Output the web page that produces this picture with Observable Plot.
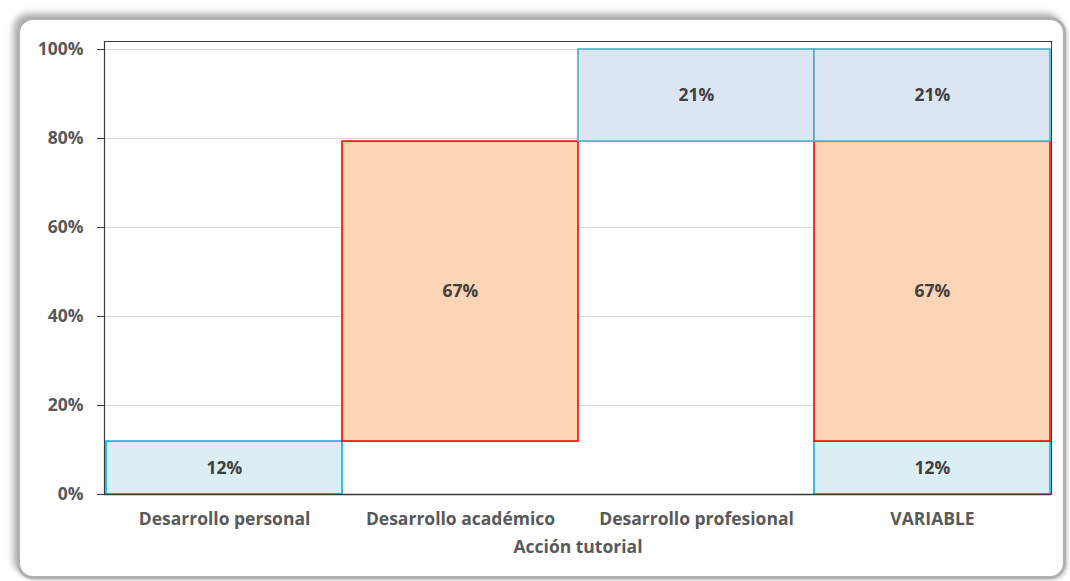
<!DOCTYPE html>
<html>
<head>
<meta charset="utf-8">
<script src="https://cdn.jsdelivr.net/npm/d3@7"></script>
<script src="https://cdn.jsdelivr.net/npm/@observablehq/plot@0.6"></script>
<style>
  html, body { margin: 0; padding: 0; background: #fff; }
  #wrap { position: relative; width: 1070px; height: 581px; overflow: hidden; }
  #frame {
    position: absolute; left: 17px; top: 17px; width: 1049px; height: 562px;
    border: 3px solid #b0b0b0; border-radius: 16px; box-sizing: border-box;
    box-shadow: -4px -4px 6px rgba(0,0,0,0.3), 2px 2px 3px rgba(0,0,0,0.15);
    background: #fff;
  }
  #chart { position: absolute; left: 0; top: 0; }
</style>
</head>
<body>
<div id="wrap"><div id="frame"></div><div id="chart"></div></div>
<script>
const categories = ["Desarrollo personal", "Desarrollo académico", "Desarrollo profesional", "VARIABLE"];
const segmentNames = ["personal", "académico", "profesional"];
const segmentValues = [11.9, 67.4, 20.7];
const segmentLabels = ["12%", "67%", "21%"];
const segmentFills = ["#DAEEF3", "#FBD5B5", "#DCE6F2"];
const segmentStrokes = ["#00B0F0", "#FF0000", "#4BACC6"];
const yTicks = [0, 20, 40, 60, 80, 100];

// build rectangles: each single category shows its own segment; VARIABLE stacks all
const rows = [];
let cum = 0;
segmentValues.forEach((v, i) => {
  const y1 = cum, y2 = cum + v;
  rows.push({cat: categories[i], seg: i, y1, y2, label: segmentLabels[i]});
  rows.push({cat: categories[3], seg: i, y1, y2, label: segmentLabels[i]});
  cum = y2;
});

const fontFamily = "'Open Sans', sans-serif";
const plot = Plot.plot({
  width: 1070,
  height: 581,
  marginLeft: 104,
  marginRight: 19,
  marginTop: 41,
  marginBottom: 87,
  style: {fontFamily, fontSize: "17.5px", fontWeight: 700, color: "#595959", background: "transparent"},
  x: {domain: categories, padding: 0},
  y: {domain: [0, 100 * (494 - 41) / 445]},
  marks: [
    Plot.ruleY(yTicks, {stroke: "#d9d9d9", strokeWidth: 1}),
    Plot.barY(rows, {
      x: "cat", y1: "y1", y2: "y2", inset: 0,
      fill: d => segmentFills[d.seg], stroke: d => segmentStrokes[d.seg], strokeWidth: 1.6
    }),
    Plot.text(rows, {
      x: "cat", y: d => (d.y1 + d.y2) / 2, text: "label",
      fill: "#404040", fontSize: 17.5, fontWeight: 700
    }),
    Plot.frame({stroke: "#3a3a3a", strokeWidth: 1, anchor: "top"}),
    Plot.frame({stroke: "#3a3a3a", strokeWidth: 1, anchor: "right"}),
    Plot.frame({stroke: "#3a3a3a", strokeWidth: 1.2, anchor: "left"}),
    Plot.axisY({ticks: yTicks, tickFormat: d => d + "%", tickSize: 7, tickPadding: 14,
      fontSize: 17.5, fill: "#595959", stroke: "#3a3a3a", label: null}),
    Plot.axisX({tickSize: 0, tickPadding: 18, fontSize: 17.5, fill: "#595959",
      label: "Acción tutorial", labelAnchor: "center", labelArrow: "none", labelOffset: 58}),
    Plot.ruleY([0], {stroke: "#3a3a3a", strokeWidth: 1.5})
  ]
});
document.getElementById("chart").appendChild(plot);
</script>
</body>
</html>
